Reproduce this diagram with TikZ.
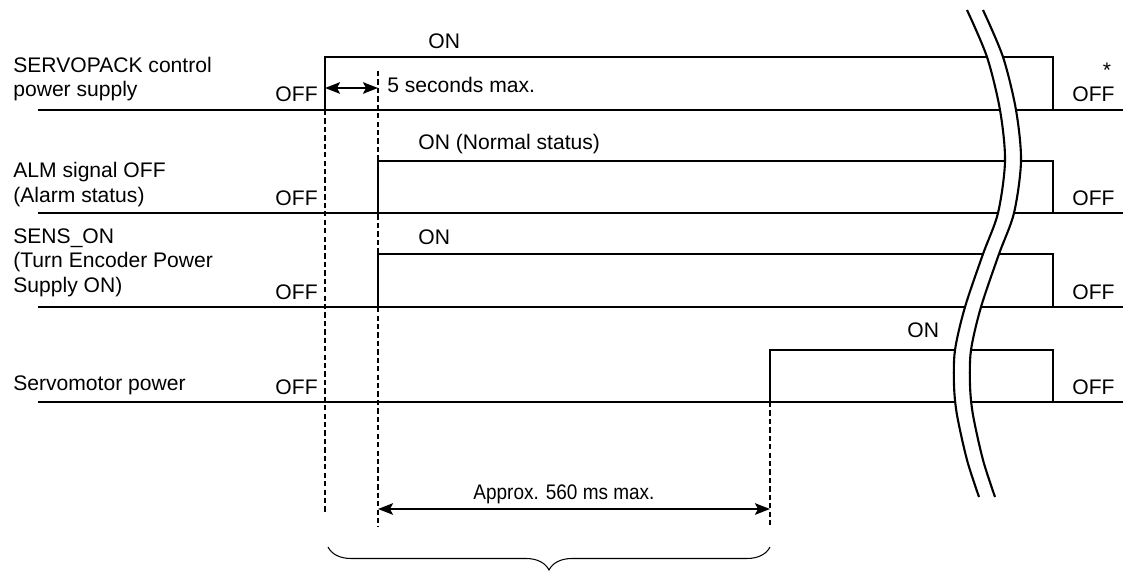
\documentclass[tikz,border=0pt]{standalone}
\usepackage{fontspec}
\setmainfont{Liberation Sans}
\usepackage{graphicx}
\usetikzlibrary{arrows.meta,decorations.pathreplacing,calc}

\begin{document}
\begin{tikzpicture}[x=0.02cm, y=-0.02cm, >={Stealth[length=3mm,width=2.3mm,inset=0.6mm]},
  font=\fontsize{12}{13.7}\selectfont,
  sig/.style={line width=1.2pt},
  rest/.style={line width=0.6pt},
  guide/.style={line width=0.6pt, dash pattern=on 3pt off 1.8pt},
  lbl/.style={anchor=base west, inner sep=0pt, align=left},
  lvl/.style={anchor=base, inner sep=0pt}]
  \useasboundingbox (0,0) rectangle (1123,571);
  \node[lbl] (ctl) at (13,97) {SERVOPACK control\\power supply};
  \node[lbl] (alm) at (13,202) {ALM signal OFF\\(Alarm status)};
  \node[lbl] (sens) at (13,292) {SENS\_ON\\(Turn Encoder Power\\Supply ON)};
  \node[lbl] (mot) at (13,390) {Servomotor power};
  \draw[sig] (38,110) -| (325,57) -| (1053,110) -- (1123,110); \draw[rest] (325,110) -- (1053,110);
  \draw[sig] (38,213) -| (378,161) -| (1053,213) -- (1123,213); \draw[rest] (378,213) -- (1053,213);
  \draw[sig] (38,307) -| (378,254) -| (1053,307) -- (1123,307); \draw[rest] (378,307) -- (1053,307);
  \draw[sig] (38,402) -| (770,350) -| (1053,402) -- (1123,402); \draw[rest] (770,402) -- (1053,402);
  \node[lvl, anchor=base east] (ctloff) at (318,102) {OFF};
  \node[lvl, anchor=base east] (almoff) at (318,205) {OFF};
  \node[lvl, anchor=base east] (sensoff) at (318,299) {OFF};
  \node[lvl, anchor=base east] (motoff) at (318,394) {OFF};
  \node[lvl, anchor=base west] (ctlon) at (428,49) {ON};
  \node[lvl, anchor=base west] (almon) at (418,150) {ON (Normal status)};
  \node[lvl, anchor=base west] (senson) at (418,244) {ON};
  \node[lvl, anchor=base west] (moton) at (907,337) {ON};
  \node[lvl, anchor=base west] (ctlend) at (1072,102) {OFF};
  \node[lvl] (star) at (1107,78) {*};
  \node[lvl, anchor=base west] (almend) at (1072,205) {OFF};
  \node[lvl, anchor=base west] (sensend) at (1072,299) {OFF};
  \node[lvl, anchor=base west] (motend) at (1072,394) {OFF};
  \draw[guide] (325,110) -- (325,512);
  \draw[guide] (378,71) -- (378,527);
  \draw[guide] (770,402) -- (770,528);
  \coordinate (p0) at (325,88); \coordinate (p1) at (378,88);
  \draw[sig, <->] (p0) -- (p1);
  \node[lvl, anchor=base west] (five) at (387,93) {5 seconds max.};
  \coordinate (q0) at (378,509); \coordinate (q1) at (770,509);
  \draw[sig, <->] (q0) -- (q1);
  \node[lvl] (appr) at (564,499) {\scalebox{0.9}[1]{Approx. 560 ms max.}};
  \draw[rest, decorate, decoration={brace, mirror, amplitude=0.46cm}] (328,547) -- (770,547);
  \def\bendpath{plot[smooth] coordinates {(975,10) (995,57) (1008,110) (1013,161) (1006,213) (991,254) (973,307) (963,350) (962,385) (965,415) (975,460) (987,497)}}
  \draw[white, line width=0.29cm] \bendpath;
  \foreach \dx in {-8,8} \draw[sig, shift={(\dx,0)}] \bendpath;
\end{tikzpicture}
\end{document}
